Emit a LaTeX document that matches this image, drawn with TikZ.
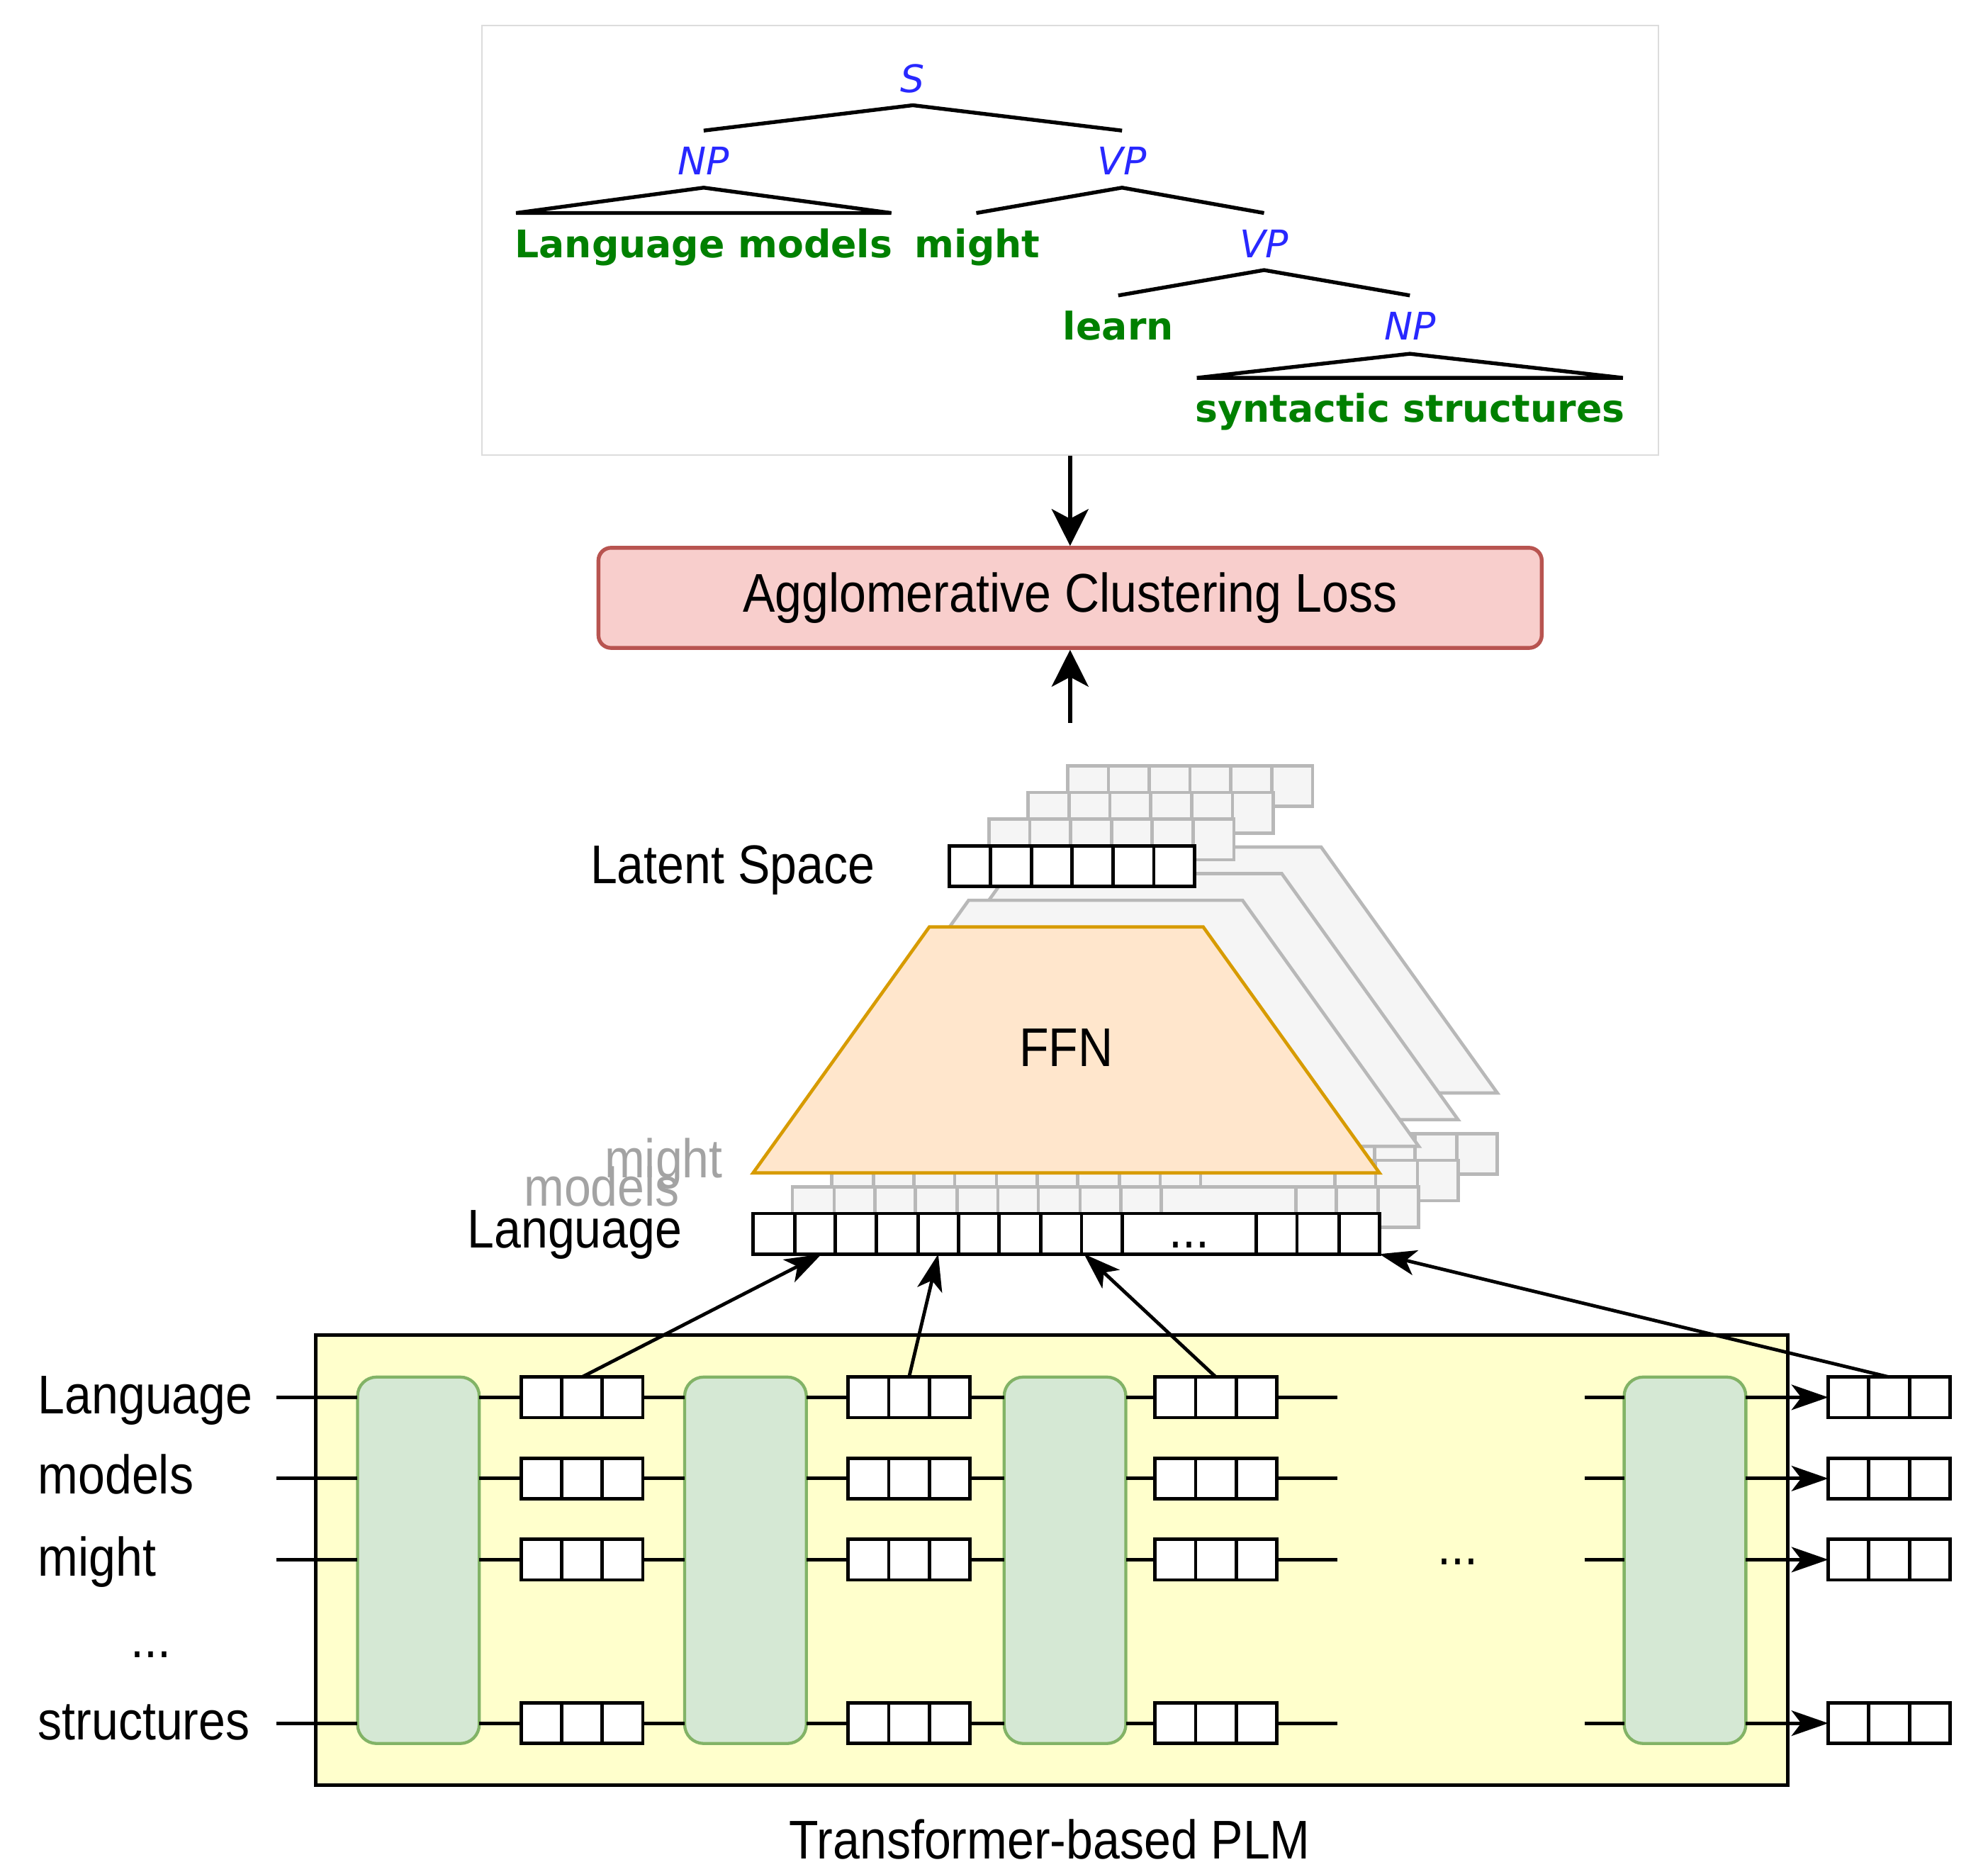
\documentclass[tikz,border=0pt]{standalone}
\usepackage{fontspec}
\setmainfont[FakeStretch=0.885]{Liberation Sans}
\newfontfamily\treefont{DejaVu Sans}
\usetikzlibrary{arrows.meta,calc}
\definecolor{lossfill}{HTML}{F8CECC}
\definecolor{lossdraw}{HTML}{B85450}
\definecolor{ffnfill}{HTML}{FFE6CC}
\definecolor{ffndraw}{HTML}{D79B00}
\definecolor{gfill}{HTML}{D5E8D4}
\definecolor{gdraw}{HTML}{82B366}
\definecolor{yfill}{HTML}{FFFFCC}
\definecolor{grayfill}{HTML}{F5F5F5}
\definecolor{graydraw}{HTML}{B8B8B8}
\definecolor{treeblue}{HTML}{2828FF}
\definecolor{treegreen}{HTML}{008000}
\definecolor{boxgray}{HTML}{DCDCDC}
\definecolor{labgray}{HTML}{A3A3A3}

% name, x, y, ncells, cell width, height, kind (blk/gry)
\newcommand\cellvec[7]{%
  \node[vec#7,anchor=north west,minimum width={#4*#5*0.5pt},minimum height={#6*0.5pt}] (#1) at (#2,#3) {};
  \pgfmathtruncatemacro\cvlast{#4-1}%
  \foreach \ci in {1,...,\cvlast}
    \draw[div#7] ({#2+\ci*#5},#3) -- ({#2+\ci*#5},{#3+#6});
}
% name, kind
\newcommand\invec[2]{%
  \node[vec#2,anchor=north west,minimum width=247pt,minimum height=16pt] (#1) at (594,957) {};
  \foreach \dx in {627,659,691,724,756,788,821,853,885,991,1023,1056}
    \draw[div#2] (\dx,957) -- (\dx,989);
}

\begin{document}
\begin{tikzpicture}[x=0.5pt,y=-0.5pt,
  vecblk/.style={draw=black,line width=1.35pt,fill=white,inner sep=0pt,outer sep=0pt},
  divblk/.style={draw=black,line width=1.35pt},
  vecgry/.style={draw=graydraw,line width=1.3pt,fill=grayfill,inner sep=0pt,outer sep=0pt},
  divgry/.style={draw=graydraw,line width=1.3pt},
  trapgry/.style={draw=graydraw,line width=1.3pt,fill=grayfill,line join=miter},
  conn/.style={draw=black,line width=1.35pt},
  arrowto/.style={conn,-{Stealth[length=14.5pt,width=10pt,inset=3.8pt]}},
  arrowwide/.style={draw=black,line width=1.6pt,-{Stealth[length=14.5pt,width=14.5pt,inset=3.8pt]}},
  txt/.style={inner sep=0pt,outer sep=0pt,font=\fontsize{21.5pt}{25pt}\selectfont},
  tlab/.style={inner sep=0pt,text=treeblue,font=\treefont\itshape\fontsize{15pt}{18pt}\selectfont,anchor=base},
  tword/.style={inner sep=0pt,text=treegreen,font=\treefont\bfseries\fontsize{15pt}{18pt}\selectfont,anchor=base},
  tline/.style={draw=black,line width=1.5pt},
  gblock/.style={draw=gdraw,fill=gfill,line width=1.2pt,rounded corners=7.5pt,minimum width=48pt,minimum height=144.5pt,inner sep=0pt,outer sep=0pt},
]
\useasboundingbox (0,0) rectangle (1568,1472);

% ---------------- parse tree ----------------
\node[draw=boxgray,line width=0.6pt,minimum width=464pt,minimum height=169.5pt,inner sep=0pt] (tree) at (844,189.5) {};
\node[tlab] (tS) at (720,73) {S};
\node[tlab] (tNP) at (555,138) {NP};
\node[tlab] (tVP) at (885,138) {VP};
\node[tlab] (tVPb) at (997,203) {VP};
\node[tlab] (tNPb) at (1112,268) {NP};
\node[tword] (wLM) at (555,203) {Language models};
\node[tword] (wM) at (771,203) {might};
\node[tword] (wL) at (882,268) {learn};
\node[tword] (wSS) at (1112,333) {syntactic structures};

\coordinate (aS) at (720,83);  \coordinate (sL) at (555,103); \coordinate (sR) at (885,103);
\coordinate (n1a) at (555,148); \coordinate (n1l) at (407,168); \coordinate (n1r) at (703,168);
\coordinate (v1a) at (885,148); \coordinate (v1l) at (770,168); \coordinate (v1r) at (997,168);
\coordinate (v2a) at (997,213); \coordinate (v2l) at (882,233); \coordinate (v2r) at (1112,233);
\coordinate (n2a) at (1112,279); \coordinate (n2l) at (944,298); \coordinate (n2r) at (1280,298);
\draw[tline] (sL) -- (aS) -- (sR);
\draw[tline] (n1l) -- (n1a) -- (n1r) -- cycle;
\draw[tline] (v1l) -- (v1a) -- (v1r);
\draw[tline] (v2l) -- (v2a) -- (v2r);
\draw[tline] (n2l) -- (n2a) -- (n2r) -- cycle;

% ---------------- loss ----------------
\node[draw=lossdraw,fill=lossfill,line width=1.5pt,rounded corners=5pt,minimum width=372pt,minimum height=39.5pt,inner sep=0pt,font=\fontsize{21.5pt}{25pt}\selectfont] (loss) at (844,471.5) {Agglomerative Clustering Loss};
\draw[arrowwide] (tree.south) -- (loss.north);
\coordinate (lossin) at (844,570);
\draw[arrowwide] (lossin) -- (loss.south);

% ---------------- stacked FFN layers ----------------
\foreach \k in {3,2,1}{
  \begin{scope}[shift={(31*\k,-21*\k)}]
    \draw[trapgry] (733,731) -- (949,731) -- (1088,925) -- (594,925) -- cycle;
    \cellvec{lat\k}{749}{667}{6}{32.2}{32}{gry}
    \invec{in\k}{gry}
  \end{scope}
}
\draw[draw=ffndraw,fill=ffnfill,line width=1.3pt,line join=miter] (733,731) -- (949,731) -- (1088,925) -- (594,925) -- cycle;
\node[txt] (ffn) at (841,826) {FFN};
\cellvec{lat0}{749}{667}{6}{32.2}{32}{blk}
\invec{in0}{blk}
\node[txt,anchor=base] (indots) at (938,984) {...};

\node[txt,anchor=base east] (latL) at (690,697) {Latent Space};
\node[txt,anchor=base east,text=labgray] (lmodels) at (536,951) {models};
\node[txt,anchor=base east,text=labgray] (lmight) at (570,929) {might};
\node[txt,anchor=base east] (llang) at (538,984) {Language};

% ---------------- transformer PLM ----------------
\node[draw=black,fill=yfill,line width=1.5pt,minimum width=580.5pt,minimum height=177.5pt,inner sep=0pt,outer sep=0pt,anchor=north west] (plm) at (249,1053) {};
\node[gblock,anchor=north west] (g1) at (282,1086) {};
\node[gblock,anchor=north west] (g2) at (540,1086) {};
\node[gblock,anchor=north west] (g3) at (792,1086) {};
\node[gblock,anchor=north west] (g4) at (1281,1086) {};

\foreach \r/\yy in {1/1102,2/1166,3/1230,4/1359}{
  \cellvec{va\r}{411}{\yy-16}{3}{32}{32}{blk}
  \cellvec{vb\r}{669}{\yy-16}{3}{32}{32}{blk}
  \cellvec{vc\r}{911}{\yy-16}{3}{32}{32}{blk}
  \cellvec{vo\r}{1442}{\yy-16}{3}{32}{32}{blk}
  \coordinate (li\r) at (218,\yy);
  \coordinate (le\r) at (1055,\yy);
  \coordinate (ls\r) at (1250,\yy);
  \draw[conn] (li\r) -- (li\r -| g1.west);
  \draw[conn] (g1.east |- va\r.west) -- (va\r.west);
  \draw[conn] (va\r.east) -- (va\r.east -| g2.west);
  \draw[conn] (g2.east |- vb\r.west) -- (vb\r.west);
  \draw[conn] (vb\r.east) -- (vb\r.east -| g3.west);
  \draw[conn] (g3.east |- vc\r.west) -- (vc\r.west);
  \draw[conn] (vc\r.east) -- (le\r);
  \draw[conn] (ls\r) -- (ls\r -| g4.west);
  \draw[arrowto] (g4.east |- vo\r.west) -- (vo\r.west);
}

\node[txt,anchor=base west] (rl1) at (30,1115) {Language};
\node[txt,anchor=base west] (rl2) at (30,1178) {models};
\node[txt,anchor=base west] (rl3) at (30,1243) {might};
\node[txt,anchor=base] (rldots) at (119,1307) {...};
\node[txt,anchor=base west] (rl4) at (30,1372) {structures};
\node[txt,anchor=base] (middots) at (1150,1234) {...};

% arrows into the input vector
\coordinate (t1) at ($(in0.south west)+(54,0)$);
\coordinate (t2) at ($(in0.south west)+(146,0)$);
\coordinate (t3) at ($(in0.south west)+(261,0)$);
\draw[arrowto] (va1.north) -- (t1);
\draw[arrowto] (vb1.north) -- (t2);
\draw[arrowto] (vc1.north) -- (t3);
\draw[arrowto] (vo1.north) -- (in0.south east);

\node[txt,anchor=base] (plmT) at (828,1466) {Transformer-based PLM};
\end{tikzpicture}
\end{document}
